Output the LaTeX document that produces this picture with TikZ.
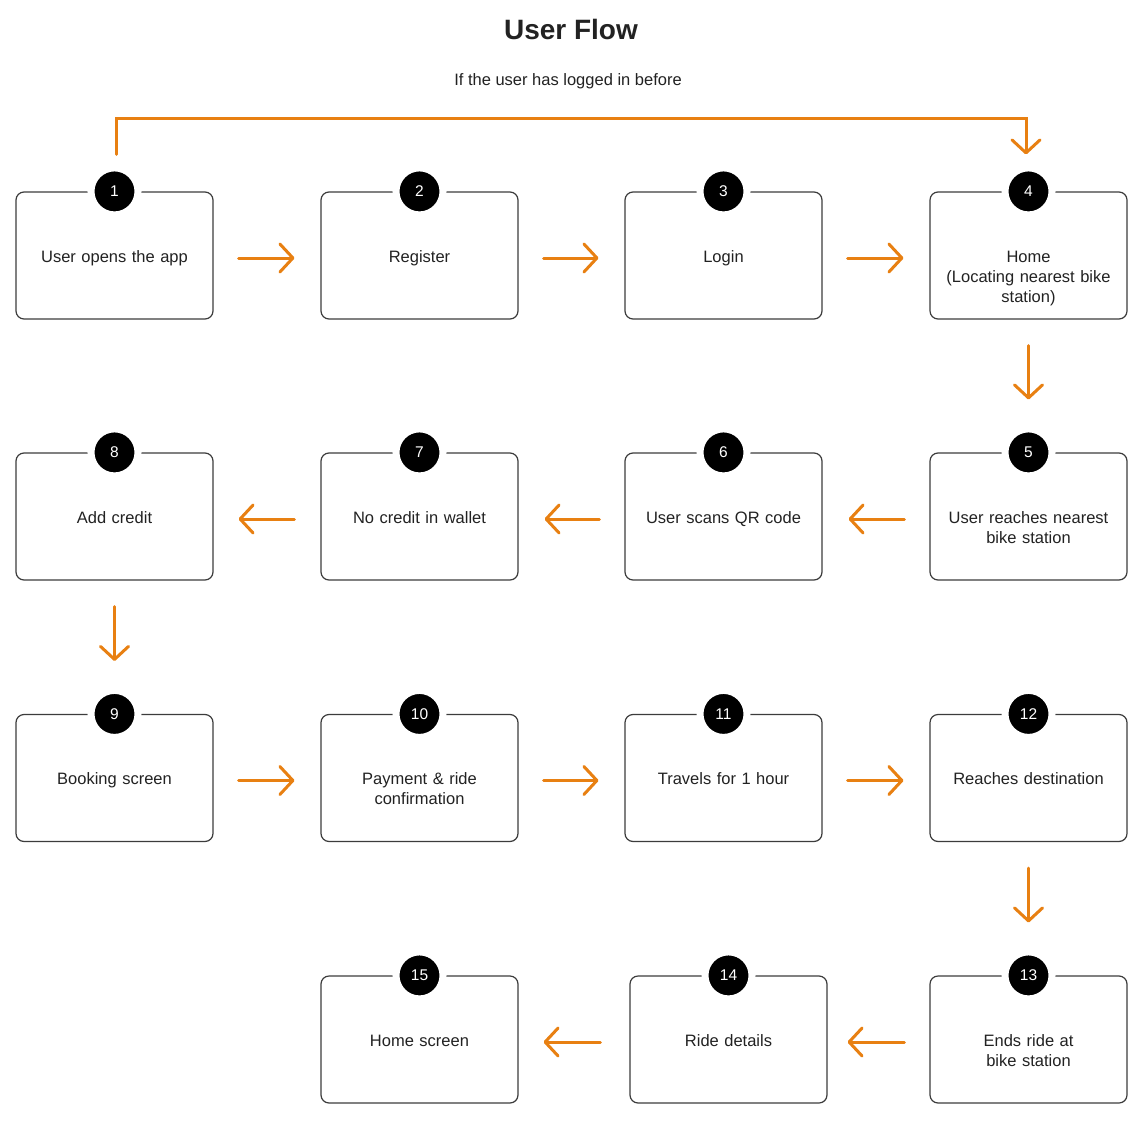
\documentclass[tikz,border=0pt]{standalone}
\usepackage{fontspec}
\setmainfont{Liberation Sans}
\usetikzlibrary{arrows.meta}
\definecolor{flow}{RGB}{232,128,18}
\definecolor{ink}{RGB}{34,34,34}
\definecolor{edge}{RGB}{60,60,60}
\begin{document}
\begin{tikzpicture}[x=1pt,y=-1pt,
 stepbox/.style={draw=edge,line width=1.2pt,rounded corners=8pt,minimum width=197pt,minimum height=127pt,inner sep=0pt},
 steptext/.style={anchor=base,text width=185pt,align=center,font=\fontsize{16.5}{20}\selectfont,text=ink,inner sep=0pt},
 badge/.style={circle,fill=black,draw=white,line width=7pt,minimum size=47pt,inner sep=0pt,text=white,font=\fontsize{15.5}{18}\selectfont},
 flowarrow/.style={draw=flow,line width=3pt,line cap=round,-{Straight Barb[length=13pt,width=28pt,round]}},
]
\useasboundingbox[fill=white] (0,0) rectangle (1143,1121);

\node[font=\fontsize{28}{34}\selectfont\bfseries,text=ink] (title) at (571,29) {User Flow};
\node[font=\fontsize{16.5}{20}\selectfont,text=ink] (looplabel) at (568,81) {If the user has logged in before};

% boxes
\node[stepbox] (b1) at (114.5,255.5) {};
\node[stepbox] (b2) at (419.5,255.5) {};
\node[stepbox] (b3) at (723.5,255.5) {};
\node[stepbox] (b4) at (1028.5,255.5) {};
\node[stepbox] (b5) at (1028.5,516.5) {};
\node[stepbox] (b6) at (723.5,516.5) {};
\node[stepbox] (b7) at (419.5,516.5) {};
\node[stepbox] (b8) at (114.5,516.5) {};
\node[stepbox] (b9) at (114.5,778) {};
\node[stepbox] (b10) at (419.5,778) {};
\node[stepbox] (b11) at (723.5,778) {};
\node[stepbox] (b12) at (1028.5,778) {};
\node[stepbox] (b13) at (1028.5,1039.5) {};
\node[stepbox] (b14) at (728.5,1039.5) {};
\node[stepbox] (b15) at (419.5,1039.5) {};

% badges
\foreach \i in {1,...,15} {\node[badge] (n\i) at (b\i.north) {\i};}

% texts
\node[steptext] (t1) at ([yshift=-6.5pt]b1.center) {User opens the app};
\node[steptext] (t2) at ([yshift=-6.5pt]b2.center) {Register};
\node[steptext] (t3) at ([yshift=-6.5pt]b3.center) {Login};
\node[steptext] (t4) at ([yshift=-6.5pt]b4.center) {Home\\(Locating nearest bike\\station)};
\node[steptext] (t5) at ([yshift=-6.5pt]b5.center) {User reaches nearest\\bike station};
\node[steptext] (t6) at ([yshift=-6.5pt]b6.center) {User scans QR code};
\node[steptext] (t7) at ([yshift=-6.5pt]b7.center) {No credit in wallet};
\node[steptext] (t8) at ([yshift=-6.5pt]b8.center) {Add credit};
\node[steptext] (t9) at ([yshift=-6.5pt]b9.center) {Booking screen};
\node[steptext] (t10) at ([yshift=-6.5pt]b10.center) {Payment \& ride\\confirmation};
\node[steptext] (t11) at ([yshift=-6.5pt]b11.center) {Travels for 1 hour};
\node[steptext] (t12) at ([yshift=-6.5pt]b12.center) {Reaches destination};
\node[steptext] (t13) at ([yshift=-6.5pt]b13.center) {Ends ride at\\bike station};
\node[steptext] (t14) at ([yshift=-6.5pt]b14.center) {Ride details};
\node[steptext] (t15) at ([yshift=-6.5pt]b15.center) {Home screen};

% loop connector
\coordinate (loopy) at (570,119);
\draw[flowarrow] ([xshift=1.5pt,yshift=37pt]b1.north) |- (loopy) -| ([xshift=-2.5pt,yshift=37pt]b4.north);

% row 1
\draw[flowarrow] ([xshift=25pt,yshift=-2.5pt]b1.east) -- ([xshift=-26pt,yshift=-2.5pt]b2.west);
\draw[flowarrow] ([xshift=25pt,yshift=-2.5pt]b2.east) -- ([xshift=-26pt,yshift=-2.5pt]b3.west);
\draw[flowarrow] ([xshift=25pt,yshift=-2.5pt]b3.east) -- ([xshift=-26pt,yshift=-2.5pt]b4.west);
\draw[flowarrow] ([yshift=-26pt]b4.south) -- ([yshift=53pt]b5.north);
% row 2
\draw[flowarrow] ([xshift=-25pt,yshift=-2.5pt]b5.west) -- ([xshift=26pt,yshift=-2.5pt]b6.east);
\draw[flowarrow] ([xshift=-25pt,yshift=-2.5pt]b6.west) -- ([xshift=26pt,yshift=-2.5pt]b7.east);
\draw[flowarrow] ([xshift=-26pt,yshift=-2.5pt]b7.west) -- ([xshift=25pt,yshift=-2.5pt]b8.east);
\draw[flowarrow] ([yshift=-26pt]b8.south) -- ([yshift=53pt]b9.north);
% row 3
\draw[flowarrow] ([xshift=25pt,yshift=-2.5pt]b9.east) -- ([xshift=-26pt,yshift=-2.5pt]b10.west);
\draw[flowarrow] ([xshift=25pt,yshift=-2.5pt]b10.east) -- ([xshift=-26pt,yshift=-2.5pt]b11.west);
\draw[flowarrow] ([xshift=25pt,yshift=-2.5pt]b11.east) -- ([xshift=-26pt,yshift=-2.5pt]b12.west);
\draw[flowarrow] ([yshift=-26pt]b12.south) -- ([yshift=53pt]b13.north);
% row 4
\draw[flowarrow] ([xshift=-25pt,yshift=-2.5pt]b13.west) -- ([xshift=20pt,yshift=-2.5pt]b14.east);
\draw[flowarrow] ([xshift=-29pt,yshift=-2.5pt]b14.west) -- ([xshift=25pt,yshift=-2.5pt]b15.east);
\end{tikzpicture}
\end{document}
